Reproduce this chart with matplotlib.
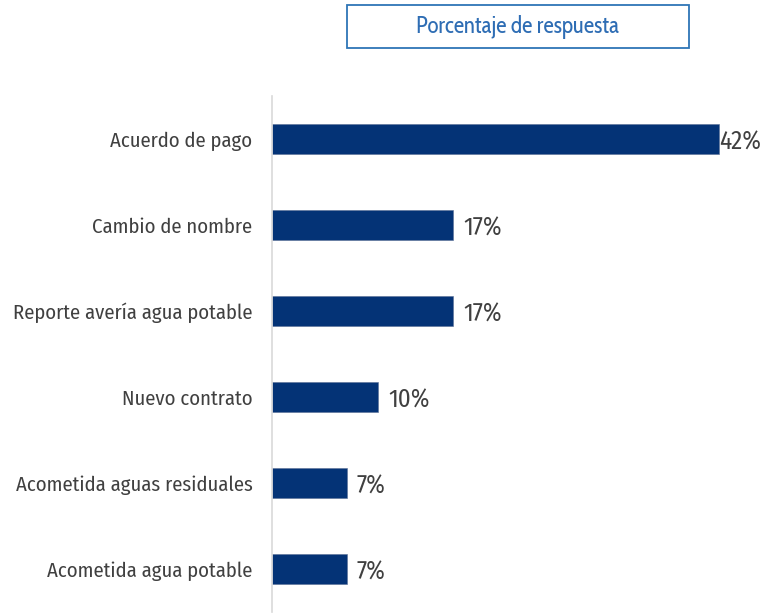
import matplotlib
matplotlib.use("Agg")
import matplotlib.pyplot as plt
from matplotlib import font_manager
from matplotlib.patches import Rectangle

categories = ["Acuerdo de pago", "Cambio de nombre", "Reporte avería agua potable",
              "Nuevo contrato", "Acometida aguas residuales", "Acometida agua potable"]
values = [42, 17, 17, 10, 7, 7]
title = "Porcentaje de respuesta"

names = {f.name for f in font_manager.fontManager.ttflist}
def pick(cands):
    for c in cands:
        if c in names:
            return c
    return "DejaVu Sans"

fam = pick(["Fira Sans Condensed", "Asap Condensed", "Barlow Semi Condensed", "PT Sans Narrow",
            "Roboto Condensed", "Archivo Narrow", "Open Sans Condensed", "Carlito"])
tfam = pick(["Cabin Condensed", "Fira Sans Condensed", "Asap Condensed", "PT Sans Narrow", "Roboto Condensed"])
plt.rcParams['font.family'] = [fam, 'DejaVu Sans']

fig = plt.figure(figsize=(7.63, 6.14), dpi=100)
W, H = 763, 614
ax = fig.add_axes([272 / W, (614 - 612) / H, (751 - 272) / W, (612 - 96) / H])

ypos = list(range(len(categories)))
ax.barh(ypos, values, height=0.35, color="#043376", edgecolor="#5a6f96", linewidth=0.4)
ax.set_ylim(len(categories) - 0.5, -0.5)
ax.set_xlim(0, 45)
ax.set_yticks(ypos)
ax.set_yticklabels(categories, fontsize=14.9, color="#404040")
ax.tick_params(axis='y', length=0, pad=14)
ax.set_xticks([])
for s in ["top", "right", "bottom"]:
    ax.spines[s].set_visible(False)
ax.spines["left"].set_color("#d9d9d9")
ax.spines["left"].set_linewidth(1.2)

vmax = max(values)
for y, v in zip(ypos, values):
    off = 0 if v == vmax else 10
    ax.annotate(f"{v}%", (v, y), xytext=(off, -3), textcoords="offset pixels",
                va="center", ha="left", fontsize=18, color="#404040")

fig.text(518 / W, 1 - 27 / H, title, ha="center", va="center", fontsize=16.5, color="#2E6DB4",
         family=[tfam, 'DejaVu Sans'])
fig.patches.append(Rectangle((347 / W, 1 - 48 / H), (689 - 347) / W, 43 / H,
                             transform=fig.transFigure, fill=False, ec="#2E75B6", lw=1.3))

fig.savefig("out.png", dpi=100)
